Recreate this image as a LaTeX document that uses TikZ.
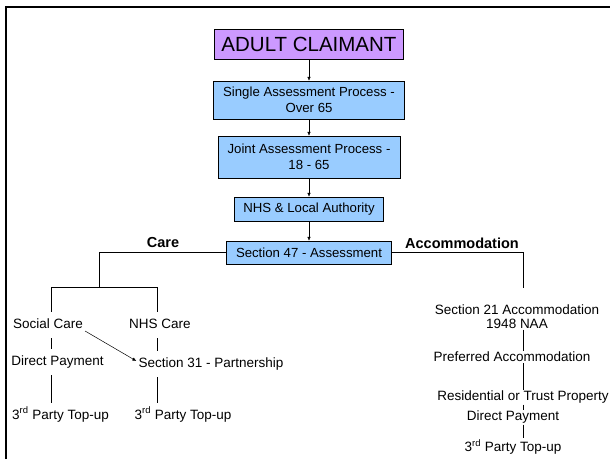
\documentclass[tikz,border=0pt]{standalone}
\usepackage{fontspec}
\setmainfont{Liberation Sans}
\usepackage{xcolor}
\usepackage{tikz}
\usetikzlibrary{arrows.meta}
\definecolor{claimantpurple}{HTML}{CC99FF}
\definecolor{processblue}{HTML}{99CCFF}
\tikzstyle{claimant box}=[fill=claimantpurple, draw=black, shape=rectangle, inner sep=0pt, font=\fontsize{20.5}{22}\selectfont]
\tikzstyle{process box}=[fill=processblue, draw=black, shape=rectangle, inner sep=0pt, align=center, font=\fontsize{13.2}{15.5}\selectfont]
\tikzstyle{branch label}=[font=\bfseries\fontsize{14.5}{16}\selectfont]
\tikzstyle{care text}=[inner xsep=2pt, inner ysep=7pt, text height=9pt, text depth=3pt, font=\fontsize{13.5}{14}\selectfont]
\tikzstyle{accom text}=[inner xsep=2pt, inner ysep=1pt, align=center, font=\fontsize{13.5}{14}\selectfont]
\tikzstyle{arrow edge}=[-{Latex[length=4pt,width=3.5pt]}, draw=black, line width=0.5pt]
\tikzstyle{plain edge}=[-, draw=black, line width=0.6pt]
\tikzstyle{frame edge}=[-, draw=black, line width=2.5pt]
\pgfdeclarelayer{nodelayer}
\pgfdeclarelayer{edgelayer}
\pgfsetlayers{nodelayer,edgelayer,main}

\begin{document}
\begin{tikzpicture}[x=1pt, y=-1pt]
        	\useasboundingbox (0, 0) rectangle (610, 459);
        	\begin{pgfonlayer}{nodelayer}
        		\node [style=claimant box, minimum width=189pt, minimum height=30pt] (0) at (309, 44) {ADULT CLAIMANT};
        		\node [style=process box, minimum width=191pt, minimum height=38pt] (1) at (309, 100) {Single Assessment Process -\\Over 65};
        		\node [style=process box, minimum width=182pt, minimum height=42pt] (2) at (309, 157) {Joint Assessment Process -\\18 - 65};
        		\node [style=process box, minimum width=149pt, minimum height=24pt] (3) at (309, 209) {NHS \& Local Authority};
        		\node [style=process box, minimum width=165pt, minimum height=23pt] (4) at (309, 252.5) {Section 47 - Assessment};
        		\node [style=branch label] (5) at (163, 242) {Care};
        		\node [style=branch label] (6) at (462, 243) {Accommodation};
        		\node [style=care text] (7) at (48, 325) {Social Care};
        		\node [style=care text] (8) at (160, 325) {NHS Care};
        		\node [style=care text] (9) at (57.5, 362) {Direct Payment};
        		\node [style=care text] (10) at (211, 364) {Section 31 - Partnership};
        		\node [style=care text] (11) at (60.5, 416) {3\textsuperscript{rd} Party Top-up};
        		\node [style=care text] (12) at (183, 416) {3\textsuperscript{rd} Party Top-up};
        		\node [style=accom text] (13) at (517, 316.5) {Section 21 Accommodation\\1948 NAA};
        		\node [style=accom text] (14) at (512, 357) {Preferred Accommodation};
        		\node [style=accom text] (15) at (523, 397) {Residential or Trust Property};
        		\node [style=accom text] (16) at (513, 417) {Direct Payment};
        		\node [style=accom text] (17) at (513, 447) {3\textsuperscript{rd} Party Top-up};
        		\coordinate (18) at (99, 287);
        		\coordinate (19) at (51, 287);
        		\coordinate (20) at (157, 287);
        		\coordinate (21) at (523, 288);
        	\end{pgfonlayer}
        	\begin{pgfonlayer}{edgelayer}
        		\draw [style=arrow edge] (0) to (1);
        		\draw [style=arrow edge] (1) to (2);
        		\draw [style=arrow edge] (2) to (3);
        		\draw [style=arrow edge] (3) to (4);
        		\draw [style=plain edge] (4.west) -| (18);
        		\draw [style=plain edge] (4.east) -| (21);
        		\draw [style=plain edge] (19) to (20);
        		\draw [style=plain edge] (19) to (7.north -| 19);
        		\draw [style=plain edge] (7.south -| 19) to (9.north -| 19);
        		\draw [style=plain edge] (9.south -| 19) to (11.north -| 19);
        		\draw [style=plain edge] (20) to (8.north -| 20);
        		\draw [style=plain edge] (8.south -| 20) to (10.north -| 20);
        		\draw [style=plain edge] (10.south -| 20) to (12.north -| 20);
        		\draw [style=arrow edge] ([yshift=-6pt]7.east) to ([yshift=3pt]10.west);
        		\draw [style=plain edge] (13.south -| 21) to (14.north -| 21);
        		\draw [style=plain edge] (14.south -| 21) to (15.north -| 21);
        		\draw [style=plain edge] (15.south -| 21) to (16.north -| 21);
        		\draw [style=plain edge] (16.south -| 21) to (17.north -| 21);
        	\end{pgfonlayer}
        	\draw [style=frame edge] (6, 459) -- (6, 7) -- (610, 7);
        \end{tikzpicture}
\end{document}
